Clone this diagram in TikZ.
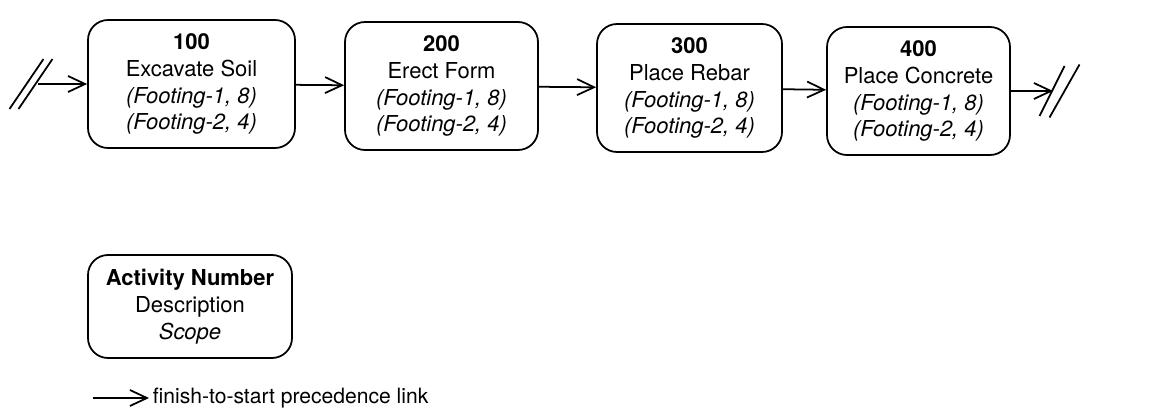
\documentclass[tikz,border=0pt]{standalone}
\usepackage{fontspec}
\setmainfont{TeX Gyre Heros}
\usetikzlibrary{arrows.meta}

\begin{document}
\begin{tikzpicture}[
    act/.style={draw,line width=1pt,rounded corners=0.4cm,minimum height=2.56cm,align=center,font=\fontsize{12.5}{15.3}\selectfont},
    link/.style={-{Straight Barb[length=3.4mm,width=3.2mm]},line width=1pt},
    brk/.style={line width=1pt}
  ]
      \useasboundingbox (0,0) rectangle (23.04,8.36);

      \node[act,minimum width=4.14cm] (100) at ( 3.83,6.68) {\textbf{100}\\Excavate Soil\\\textit{(Footing-1, 8)}\\\textit{(Footing-2, 4)}};
      \node[act,minimum width=3.86cm] (200) at ( 8.83,6.64) {\textbf{200}\\Erect Form\\\textit{(Footing-1, 8)}\\\textit{(Footing-2, 4)}};
      \node[act,minimum width=3.70cm] (300) at (13.79,6.60) {\textbf{300}\\Place Rebar\\\textit{(Footing-1, 8)}\\\textit{(Footing-2, 4)}};
      \node[act,minimum width=3.66cm] (400) at (18.37,6.54) {\textbf{400}\\Place Concrete\\\textit{(Footing-1, 8)}\\\textit{(Footing-2, 4)}};

      % broken links in and out
      \coordinate (in)  at ( 0.76,6.68);
      \coordinate (out) at (21.06,6.54);
      \draw[brk] (in) ++(-0.57,-0.50) -- ++(0.68,1.0);
      \draw[brk] (in) ++(-0.39,-0.50) -- ++(0.68,1.0);
      \draw[brk] (out) ++(-0.27,-0.50) -- ++(0.50,1.0);
      \draw[brk] (out) ++(-0.07,-0.53) -- ++(0.60,1.06);

      \path[link] (in) edge (100);
      \path[link] (100) edge (200);
      \path[link] (200) edge (300);
      \path[link] (300) edge (400);
      \path[link] (400) edge (out);

      % key
      \node[act,minimum width=4.08cm,minimum height=2.06cm] (key) at (3.80,2.23) {\textbf{Activity Number}\\Description\\\textit{Scope}};
      \coordinate (keystart) at (1.86,0.40);
      \node[anchor=west,inner sep=2pt,font=\fontsize{12}{14}\selectfont] (keytext) at (2.98,0.40) {finish-to-start precedence link};
      \path[link] (keystart) edge (keytext);
    \end{tikzpicture}
\end{document}
